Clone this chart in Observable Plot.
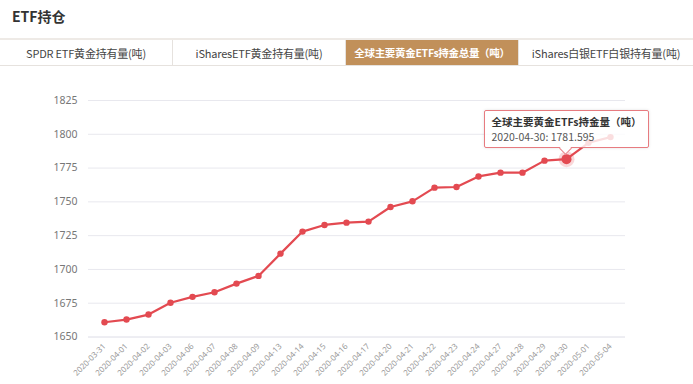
<!DOCTYPE html>
<html>
<head>
<meta charset="utf-8">
<script src="https://cdn.jsdelivr.net/npm/d3@7"></script>
<script src="https://cdn.jsdelivr.net/npm/@observablehq/plot@0.6"></script>
<style>
  html, body { margin: 0; padding: 0; background: #fff; }
  body { width: 693px; height: 384px; overflow: hidden; position: relative; font-family: "Noto Sans CJK SC", "Noto Sans", sans-serif; }
  #title { position: absolute; left: 12px; top: 6px; font-size: 14px; font-weight: bold; color: #333; }
  #tabs { position: absolute; left: 0; top: 38px; width: 693px; height: 28px; border-top: 2px solid #eeeae6; border-bottom: 1px solid #e6e2de; box-sizing: border-box; display: flex; }
  .tab { width: 173px; height: 100%; display: flex; align-items: center; justify-content: center; font-size: 11px; color: #444; border-right: 1px solid #e6e2de; box-sizing: border-box; white-space: nowrap; letter-spacing: -0.2px; }
  .tab.active { background: #c1905a; color: #fff; font-weight: bold; font-size: 10.5px; letter-spacing: -0.3px; }
  .tab:last-child { border-right: none; width: 174px; }
  #chart { position: absolute; left: 0; top: 70px; }
  #tip { position: absolute; background: rgba(255,255,255,0.82); border: 1px solid #e77b80; border-radius: 2px; padding: 3px 6px 3px 7px; font-size: 10.5px; color: #555; white-space: nowrap; box-shadow: 0 0 3px rgba(0,0,0,0.12); }
  #tip div { line-height: 15px; height: 15px; }
  #tip .h { color: #333; font-weight: bold; }
  #tip:after { content: ""; position: absolute; left: 50%; bottom: -6px; margin-left: -5px; width: 8px; height: 8px; background: #fff; border-right: 1px solid #e77b80; border-bottom: 1px solid #e77b80; transform: rotate(45deg); }
</style>
</head>
<body>
<div id="title">ETF持仓</div>
<div id="tabs"></div>
<div id="chart"></div>
<script>
const tabLabels = ["SPDR ETF黄金持有量(吨)", "iSharesETF黄金持有量(吨)", "全球主要黄金ETFs持金总量（吨）", "iShares白银ETF白银持有量(吨)"];
const activeTab = 2;
const dates = ["2020-03-31","2020-04-01","2020-04-02","2020-04-03","2020-04-06","2020-04-07","2020-04-08","2020-04-09","2020-04-13","2020-04-14","2020-04-15","2020-04-16","2020-04-17","2020-04-20","2020-04-21","2020-04-22","2020-04-23","2020-04-24","2020-04-27","2020-04-28","2020-04-29","2020-04-30","2020-05-01","2020-05-04"];
const values = [1660.9,1662.9,1666.6,1675.3,1679.7,1683.1,1689.5,1695.2,1711.7,1728.0,1732.9,1734.6,1735.4,1746.2,1750.4,1760.5,1761.0,1768.8,1771.6,1771.6,1780.5,1781.595,1793.7,1797.9];
const yTicks = [1650,1675,1700,1725,1750,1775,1800,1825];
const seriesName = "全球主要黄金ETFs持金量（吨）";
const tipIndex = 21;

const tabs = document.getElementById("tabs");
tabLabels.forEach((t, i) => {
  const d = document.createElement("div");
  d.className = "tab" + (i === activeTab ? " active" : "");
  d.textContent = t;
  tabs.appendChild(d);
});

const data = dates.map((d, i) => ({date: d, value: values[i]}));
const red = "#e34a51";

const chart = Plot.plot({
  width: 693,
  height: 314,
  marginLeft: 88,
  marginRight: 68,
  marginTop: 30,
  marginBottom: 47.5,
  style: {fontFamily: "'Noto Sans', 'DejaVu Sans', sans-serif", color: "#888", background: "transparent"},
  x: {type: "point", domain: dates, padding: 0.5, label: null},
  y: {domain: [1650, 1825], label: null},
  marks: [
    Plot.gridY(yTicks.slice(1), {stroke: "#e8e8ee", strokeOpacity: 1, strokeWidth: 1}),
    Plot.ruleY([1650], {stroke: "#dcdce6", strokeWidth: 1}),
    Plot.axisY({ticks: yTicks, tickFormat: d => String(d), tickSize: 0, tickPadding: 11, fontSize: 10.5, fill: "#777", label: null}),
    Plot.axisX({tickSize: 0, tickPadding: 8, tickRotate: -45, fontSize: 8, fill: "#999", label: null}),
    Plot.line(data, {x: "date", y: "value", stroke: red, strokeWidth: 2.2}),
    Plot.dot(data, {x: "date", y: "value", r: 3.2, fill: red}),
    Plot.dot([data[tipIndex]], {x: "date", y: "value", r: 8, fill: red, fillOpacity: 0.22}),
    Plot.dot([data[tipIndex]], {x: "date", y: "value", r: 5, fill: red})
  ]
});
document.getElementById("chart").appendChild(chart);

const px = chart.scale("x").apply(dates[tipIndex]);
const py = chart.scale("y").apply(values[tipIndex]);
const tip = document.createElement("div");
tip.id = "tip";
const l1 = document.createElement("div");
l1.className = "h";
l1.textContent = seriesName;
const l2 = document.createElement("div");
l2.textContent = dates[tipIndex] + ": " + values[tipIndex].toFixed(3);
tip.appendChild(l1);
tip.appendChild(l2);
document.body.appendChild(tip);
const w = tip.offsetWidth, h = tip.offsetHeight;
tip.style.left = (px - w / 2 + 0) + "px";
tip.style.top = (70 + py - 11 - h) + "px";
</script>
</body>
</html>
